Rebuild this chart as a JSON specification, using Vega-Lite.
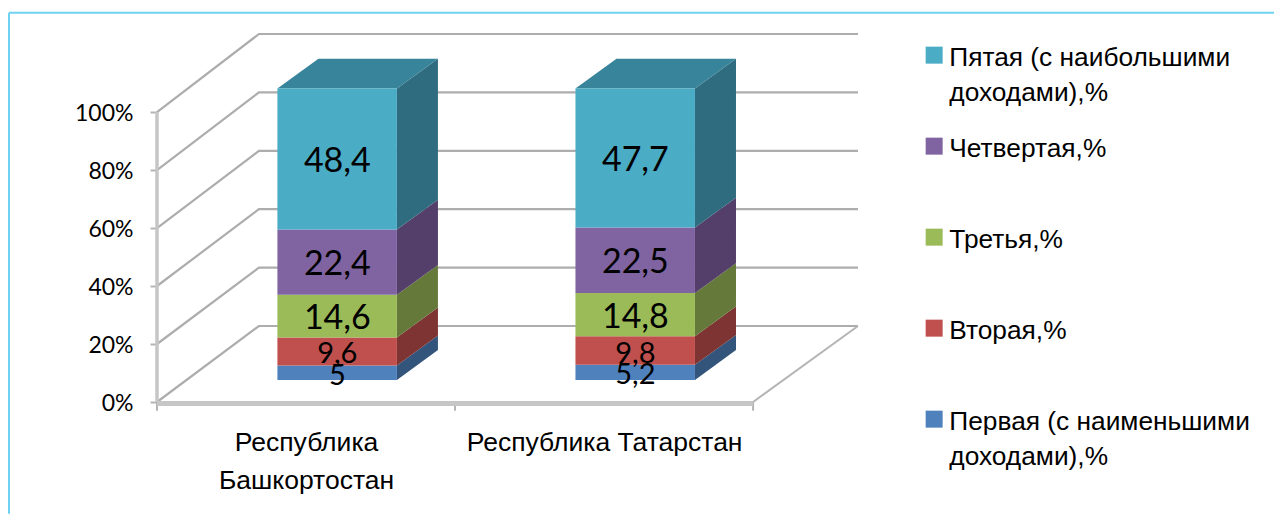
{
"$schema":"https://vega.github.io/schema/vega-lite/v6.json",
"width":701,"height":368,
"autosize":"none",
"padding":{"left":157,"top":34,"right":416,"bottom":112},
"background":"#ffffff",
"view":{"stroke":null},
"config":{"style":{"guide-label":{"lineHeight":35,"dy":3}}},
"datasets":{
"bars":[
{"region":"Республика Башкортостан","quintile":1,"group":"Первая (с наименьшими доходами),%","value":5},
{"region":"Республика Башкортостан","quintile":2,"group":"Вторая,%","value":9.6},
{"region":"Республика Башкортостан","quintile":3,"group":"Третья,%","value":14.6},
{"region":"Республика Башкортостан","quintile":4,"group":"Четвертая,%","value":22.4},
{"region":"Республика Башкортостан","quintile":5,"group":"Пятая (с наибольшими доходами),%","value":48.4},
{"region":"Республика Татарстан","quintile":1,"group":"Первая (с наименьшими доходами),%","value":5.2},
{"region":"Республика Татарстан","quintile":2,"group":"Вторая,%","value":9.8},
{"region":"Республика Татарстан","quintile":3,"group":"Третья,%","value":14.8},
{"region":"Республика Татарстан","quintile":4,"group":"Четвертая,%","value":22.5},
{"region":"Республика Татарстан","quintile":5,"group":"Пятая (с наибольшими доходами),%","value":47.7}
],
"ticks":[{"pct":0},{"pct":20},{"pct":40},{"pct":60},{"pct":80},{"pct":100}],
"cats":[{"cat":0},{"cat":1},{"cat":2}]
},
"transform":[],
"layer":[
{"data":{"name":"ticks"},
 "transform":[
  {"calculate":"[0,1,2]","as":"k"},{"flatten":["k"]},
  {"calculate":"datum.k==0?0:(datum.k==1?0.342:2.352)","as":"px"},
  {"calculate":"datum.k==0?datum.pct:datum.pct*1.007+26.2","as":"py"}],
 "mark":{"type":"line","stroke":"#adadad","strokeWidth":2.2},
 "encoding":{
  "x":{"field":"px","type":"quantitative","scale":{"domain":[0,2.352],"nice":false,"zero":false},"sort":null,
       "axis":{"title":null,"values":[0.5,1.5],"ticks":false,"domain":false,"grid":false,"labelAngle":0,"labelAlign":"center","labelBaseline":"top",
        "labelExpr":"datum.value<1?['Республика','Башкортостан']:'Республика Татарстан'",
        "labelFont":"Liberation Sans","labelFontSize":26.5,"labelColor":"#000000","labelPadding":24,"labelLineHeight":38,"labelLimit":400,"labelOverlap":false}},
  "y":{"field":"py","type":"quantitative","scale":{"domain":[0,126.9],"nice":false,"zero":false},
       "axis":{"title":null,"values":[0,20,40,60,80,100],"domain":false,"grid":false,"ticks":true,"tickSize":7,"tickColor":"#b4b4b4","tickWidth":2,
        "labelExpr":"datum.value+'%'","labelFont":"Lato","labelFontSize":23,"labelColor":"#000000","labelPadding":17,"labelOffset":-2}},
  "detail":{"field":"pct"}}},
{"data":{"name":"cats"},
 "mark":{"type":"rule","stroke":"#b4b4b4","strokeWidth":2},
 "encoding":{"x":{"field":"cat","type":"quantitative","axis":null},"y":{"datum":0,"axis":null},"y2":{"datum":-3}}},
{"data":{"name":"cats"},"transform":[{"filter":"datum.cat==2"}],
 "mark":{"type":"rule","stroke":"#b4b4b4","strokeWidth":2},
 "encoding":{"x":{"datum":2,"axis":null},"y":{"datum":0,"axis":null},"x2":{"datum":2.352},"y2":{"datum":26.2}}},
{"data":{"name":"cats"},"transform":[{"filter":"datum.cat==0"}],
 "mark":{"type":"rule","stroke":"#c6c6c6","strokeWidth":3.5},
 "encoding":{"x":{"datum":0,"axis":null},"y":{"datum":0,"axis":null},"y2":{"datum":100}}},
{"data":{"name":"cats"},"transform":[{"filter":"datum.cat==0"}],
 "mark":{"type":"rule","stroke":"#c6c6c6","strokeWidth":5},
 "encoding":{"x":{"datum":0,"axis":null},"x2":{"datum":2},"y":{"datum":-0.5,"axis":null}}},
{"data":{"name":"cats"},"transform":[{"filter":"datum.cat==0"}],
 "mark":{"type":"rule","stroke":"#6fd2f2","strokeWidth":2},
 "encoding":{"x":{"datum":-0.4966,"axis":null},"x2":{"datum":3.748},"y":{"datum":134.2,"axis":null}}},
{"data":{"name":"cats"},"transform":[{"filter":"datum.cat==0"}],
 "mark":{"type":"rule","stroke":"#6fd2f2","strokeWidth":2},
 "encoding":{"x":{"datum":-0.4966,"axis":null},"y":{"datum":134.2,"axis":null},"y2":{"datum":-38.5}}},
{"data":{"name":"bars"},
 "transform":[
  {"stack":"value","groupby":["region"],"sort":[{"field":"quintile","order":"ascending"}],"as":["s0","s1"]},
  {"calculate":"indexof(['Республика Башкортостан','Республика Татарстан'],datum.region)","as":"i"},
  {"calculate":"7.6+1.005*datum.s0","as":"b0"},
  {"calculate":"7.6+1.005*datum.s1","as":"b1"},
  {"calculate":"[0,1]","as":"d"},{"flatten":["d"]},
  {"calculate":"datum.i+0.805+datum.d*0.1376","as":"sx"},
  {"calculate":"datum.b0+datum.d*10.3","as":"sy0"},
  {"calculate":"datum.b1+datum.d*10.3","as":"sy1"}],
 "mark":{"type":"area","interpolate":"linear"},
 "encoding":{
  "x":{"field":"sx","type":"quantitative","axis":null},
  "y":{"field":"sy0","type":"quantitative","axis":null,"stack":null},
  "y2":{"field":"sy1"},
  "detail":{"field":"region"},
  "color":{"field":"group","type":"nominal","legend":null,
   "scale":{"domain":["Пятая (с наибольшими доходами),%","Четвертая,%","Третья,%","Вторая,%","Первая (с наименьшими доходами),%"],
            "range":["#2f6c7f","#533f69","#65793a","#7d3432","#33547b"]}}}},
{"data":{"name":"bars"},
 "transform":[
  {"filter":"datum.quintile==5"},
  {"calculate":"indexof(['Республика Башкортостан','Республика Татарстан'],datum.region)","as":"i"},
  {"calculate":"[0,1]","as":"d"},{"flatten":["d"]},
  {"calculate":"datum.i+0.404+datum.d*0.1376","as":"tx0"},
  {"calculate":"datum.i+0.805+datum.d*0.1376","as":"tx1"},
  {"calculate":"7.6+1.005*100+datum.d*10.3","as":"ty"}],
 "mark":{"type":"area","orient":"horizontal","fill":"#38849a"},
 "encoding":{
  "y":{"field":"ty","type":"quantitative","axis":null},
  "x":{"field":"tx0","type":"quantitative","axis":null,"stack":null},
  "x2":{"field":"tx1"},
  "detail":{"field":"region"}}},
{"data":{"name":"bars"},
 "transform":[
  {"stack":"value","groupby":["region"],"sort":[{"field":"quintile","order":"ascending"}],"as":["s0","s1"]},
  {"calculate":"indexof(['Республика Башкортостан','Республика Татарстан'],datum.region)","as":"i"},
  {"calculate":"datum.i+0.404","as":"fx0"},
  {"calculate":"datum.i+0.805","as":"fx1"},
  {"calculate":"7.6+1.005*datum.s0","as":"b0"},
  {"calculate":"7.6+1.005*datum.s1","as":"b1"}],
 "mark":{"type":"rect"},
 "encoding":{
  "x":{"field":"fx0","type":"quantitative","axis":null},
  "x2":{"field":"fx1"},
  "y":{"field":"b0","type":"quantitative","axis":null},
  "y2":{"field":"b1"},
  "color":{"field":"group","type":"nominal",
   "scale":{"domain":["Пятая (с наибольшими доходами),%","Четвертая,%","Третья,%","Вторая,%","Первая (с наименьшими доходами),%"],
            "range":["#4bacc6","#8064a2","#9bbb59","#c0504d","#4f81bd"]},
   "legend":{"title":null,"orient":"none","legendX":764,"legendY":8,"symbolType":"square","symbolSize":289,"symbolStrokeWidth":0,"symbolOpacity":1,
    "labelFont":"Liberation Sans","labelFontSize":26.3,"labelColor":"#000000","labelLimit":400,"labelOffset":2,"gridAlign":"all","rowPadding":26,
    "labelExpr":"datum.label=='Пятая (с наибольшими доходами),%'?['Пятая (с наибольшими','доходами),%']:(datum.label=='Первая (с наименьшими доходами),%'?['Первая (с наименьшими','доходами),%']:datum.label)"}}}},
{"data":{"name":"bars"},
 "transform":[
  {"stack":"value","groupby":["region"],"sort":[{"field":"quintile","order":"ascending"}],"as":["s0","s1"]},
  {"calculate":"indexof(['Республика Башкортостан','Республика Татарстан'],datum.region)","as":"i"},
  {"calculate":"datum.i+0.605","as":"cx"},
  {"calculate":"7.6+1.005*(datum.s0+datum.s1)/2","as":"cy"},
  {"calculate":"replace(format(datum.value,'.10~f'),'.',',')","as":"lab"},
  {"filter":"datum.value>=14"}],
 "mark":{"type":"text","font":"Lato","fontSize":34,"color":"#000000","baseline":"middle","align":"center","dy":3},
 "encoding":{
  "x":{"field":"cx","type":"quantitative","axis":null},
  "y":{"field":"cy","type":"quantitative","axis":null},
  "text":{"field":"lab"}}},
{"data":{"name":"bars"},
 "transform":[
  {"stack":"value","groupby":["region"],"sort":[{"field":"quintile","order":"ascending"}],"as":["s0","s1"]},
  {"calculate":"indexof(['Республика Башкортостан','Республика Татарстан'],datum.region)","as":"i"},
  {"calculate":"datum.i+0.605","as":"cx"},
  {"calculate":"7.6+1.005*(datum.s0+datum.s1)/2","as":"cy"},
  {"calculate":"replace(format(datum.value,'.10~f'),'.',',')","as":"lab"},
  {"filter":"datum.value<14"}],
 "mark":{"type":"text","font":"Lato","fontSize":29,"color":"#000000","baseline":"middle","align":"center","dy":3},
 "encoding":{
  "x":{"field":"cx","type":"quantitative","axis":null},
  "y":{"field":"cy","type":"quantitative","axis":null},
  "text":{"field":"lab"}}}
],
"resolve":{"scale":{"color":"independent"},"axis":{"x":"independent","y":"independent"}}
}
